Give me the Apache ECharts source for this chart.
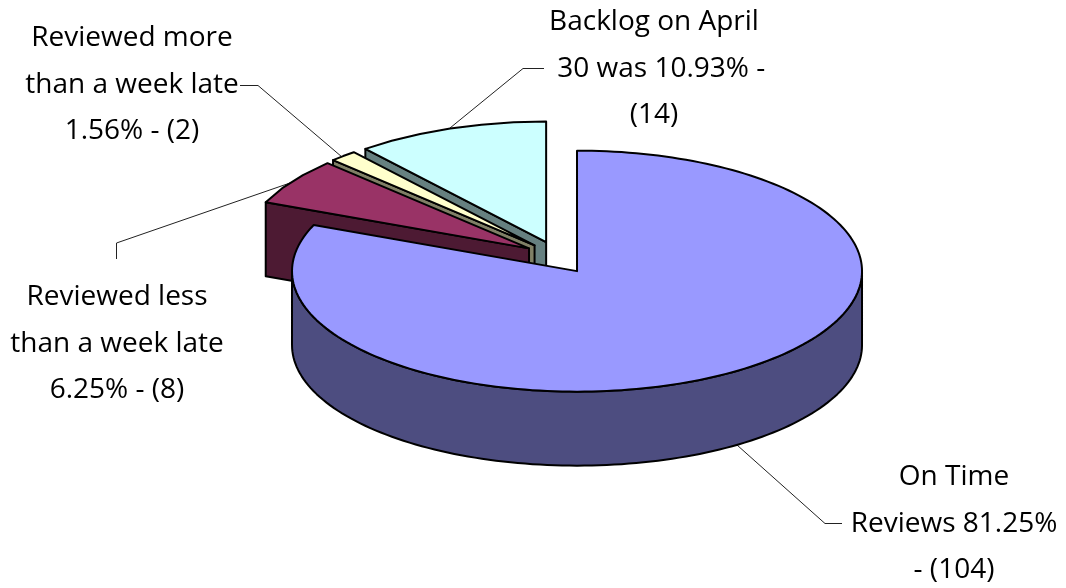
<!DOCTYPE html>
<html>
<head>
<meta charset="utf-8">
<script src="https://cdn.jsdelivr.net/npm/echarts@6/dist/echarts.min.js"></script>
<style>html,body{margin:0;padding:0;background:#fff}#c{width:1066px;height:588px}</style>
</head>
<body>
<div id="c"></div>
<script>
// Data
const categories = ['On Time Reviews', 'Reviewed less than a week late', 'Reviewed more than a week late', 'Backlog on April 30 was'];
const counts = [104, 8, 2, 14];
const percentLabels = ['81.25%', '6.25%', '1.56%', '10.93%'];
const sliceLabels = [
  'On Time\nReviews 81.25%\n- (104)',
  'Reviewed less\nthan a week late\n6.25% - (8)',
  'Reviewed more\nthan a week late\n1.56% - (2)',
  'Backlog on April\n  30 was 10.93% -\n(14)'
];
// Style
const topColors = ['#9999FF', '#993366', '#FFFFCC', '#CCFFFF'];
const sideColors = ['#4D4D80', '#4D1A33', '#808066', '#668080'];
// Pie layout
const pie = { cx: 557.8, cy: 257.5, rx: 285, ry: 120.5, depth: 74, ex: 34.6, ey: 16.4, coarseStep: 7.5, fineStep: 1.5 };
const labelPos = [[954, 524], [117, 344], [132, 85], [654, 69]];
const leaderLines = [
  [[737, 445], [825, 523.5], [842, 523.5]],
  [[290, 183], [116.5, 243], [116.5, 259]],
  [[342, 157], [258, 85.5], [240, 85.5]],
  [[450, 128], [523, 68.5], [544, 68.5]]
];

const total = counts.reduce((a, b) => a + b, 0);
const D2R = Math.PI / 180;

function renderSlice(params, api) {
  const i = params.dataIndex;
  const before = counts.slice(0, i).reduce((a, b) => a + b, 0);
  const start = before / total * 360;
  const end = start + api.value(0) / total * 360;
  const mid = (start + end) / 2 * D2R;
  const ox = pie.cx + pie.ex * Math.sin(mid);
  const oy = pie.cy - pie.ey * Math.cos(mid);
  const step = end - start > 180 ? pie.fineStep : pie.coarseStep;
  const rim = (deg, dz) => [ox + pie.rx * Math.sin(deg * D2R), oy - pie.ry * Math.cos(deg * D2R) + (dz || 0)];
  const arc = (a, b, dz) => {
    const pts = [];
    const n = Math.max(2, Math.ceil((b - a) / step));
    for (let k = 0; k <= n; k++) pts.push(rim(a + (b - a) * k / n, dz));
    return pts;
  };
  const base = { fill: topColors[i], stroke: '#000', lineWidth: 2, lineJoin: 'round' };
  const side = Object.assign({}, base, { fill: sideColors[i] });
  const z2 = (counts.length - i) * 10;
  const children = [];
  const add = (points, style, z) => children.push({
    type: 'polygon', z2: z, shape: { points: points }, style: style, silent: true
  });
  const d = pie.depth;
  if (Math.sin(start * D2R) < -1e-6) {
    const p = rim(start);
    add([[ox, oy], p, [p[0], p[1] + d], [ox, oy + d]], side, z2 + 1);
  }
  if (Math.sin(end * D2R) > 1e-6) {
    const p = rim(end);
    add([[ox, oy], p, [p[0], p[1] + d], [ox, oy + d]], side, z2 + 1);
  }
  const wa = Math.max(start, 90), wb = Math.min(end, 270);
  if (wb > wa) add(arc(wa, wb, 0).concat(arc(wa, wb, d).reverse()), side, z2 + 2);
  add([[ox, oy]].concat(arc(start, end, 0)), base, z2 + 3);
  return { type: 'group', children: children };
}

const textEls = sliceLabels.map((t, i) => ({
  type: 'text', x: labelPos[i][0], y: labelPos[i][1], silent: true,
  style: {
    text: t, fill: '#000', align: 'center', verticalAlign: 'middle',
    font: '28px "Open Sans"', lineHeight: 46.5
  }
}));
const lineEls = leaderLines.map(pts => ({
  type: 'polyline', silent: true, shape: { points: pts },
  style: { stroke: '#222', lineWidth: 1, fill: null }
}));

const chart = echarts.init(document.getElementById('c'), null, { renderer: 'canvas' });
chart.setOption({
  animation: false,
  backgroundColor: '#fff',
  series: [{
    type: 'custom',
    coordinateSystem: 'none',
    renderItem: renderSlice,
    data: counts.map((v, i) => ({ name: categories[i] + ' ' + percentLabels[i], value: [v] }))
  }],
  graphic: lineEls.concat(textEls)
});
</script>
</body>
</html>
